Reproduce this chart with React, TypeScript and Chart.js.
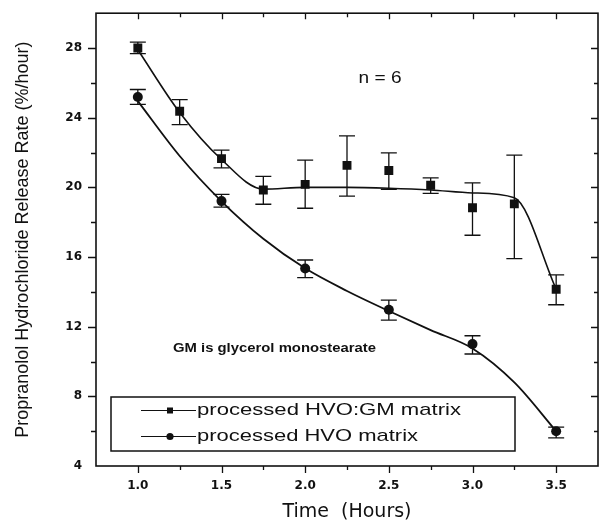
import { useEffect, useRef } from 'react';
import { Chart, registerables } from 'chart.js';

Chart.register(...registerables);

// ---- data ----
const gmTime = [1.0, 1.25, 1.5, 1.75, 2.0, 2.25, 2.5, 2.75, 3.0, 3.25, 3.5];
const gmRate = [28.0, 24.37, 21.65, 19.85, 20.17, 21.26, 20.97, 20.12, 18.83, 19.05, 14.15];
const gmUpper = [28.34, 25.04, 22.14, 20.63, 21.56, 22.96, 21.98, 20.55, 20.26, 21.85, 14.97];
const gmLower = [27.68, 23.6, 21.12, 19.03, 18.8, 19.5, 19.88, 19.66, 17.25, 15.91, 13.26];
const gmFit = [27.9, 24.3, 21.6, 19.9, 20.0, 20.0, 19.95, 19.85, 19.68, 19.4, 14.15];

const hvoTime = [1.0, 1.5, 2.0, 2.5, 3.0, 3.5];
const hvoRate = [25.19, 19.21, 15.34, 12.97, 11.0, 6.0];
const hvoUpper = [25.62, 19.6, 15.83, 13.52, 11.48, 6.23];
const hvoLower = [24.76, 18.87, 14.82, 12.38, 10.43, 5.61];
// fitted curve of the HVO series
const hvoFitTime = [1.0, 1.25, 1.5, 1.75, 2.0, 2.25, 2.5, 2.75, 3.0, 3.25, 3.5];
const hvoFit = [24.95, 21.8, 19.2, 17.05, 15.35, 14.05, 12.9, 11.8, 10.75, 8.8, 6.0];

const xTickLabels = ['1.0', '1.5', '2.0', '2.5', '3.0', '3.5'];
const yTickLabels = ['4', '8', '12', '16', '20', '24', '28'];

const seriesNames = ['processed HVO:GM matrix', 'processed HVO matrix'];
const xTitle = 'Time  (Hours)';
const yTitle = 'Propranolol Hydrochloride Release Rate (%/hour)';
const noteN = 'n = 6';
const noteGM = 'GM is glycerol monostearate';

const INK = '#111';

function labelFor(labels: string[], v: number) {
  const hit = labels.find((l) => Math.abs(parseFloat(l) - v) < 1e-6);
  return hit ?? '';
}

function stretchText(
  ctx: CanvasRenderingContext2D,
  text: string,
  x: number,
  y: number,
  font: string,
  targetWidth: number,
  align: 'left' | 'center'
) {
  ctx.save();
  ctx.font = font;
  const w = ctx.measureText(text).width;
  const sx = targetWidth / w;
  ctx.translate(x, y);
  ctx.scale(sx, 1);
  ctx.textAlign = align;
  ctx.textBaseline = 'middle';
  ctx.fillStyle = INK;
  ctx.fillText(text, 0, 0);
  ctx.restore();
}

const decorPlugin = {
  id: 'decor',
  beforeDatasetsDraw(chart: any) {
    const { ctx, scales } = chart;
    const xs = scales.x;
    const ys = scales.y;
    ctx.save();
    ctx.strokeStyle = INK;
    ctx.lineWidth = 1.3;
    const bars = (t: number[], lo: number[], hi: number[]) => {
      t.forEach((tv, i) => {
        const px = xs.getPixelForValue(tv);
        const pt = ys.getPixelForValue(hi[i]);
        const pb = ys.getPixelForValue(lo[i]);
        ctx.beginPath();
        ctx.moveTo(px, pt);
        ctx.lineTo(px, pb);
        ctx.moveTo(px - 8, pt);
        ctx.lineTo(px + 8, pt);
        ctx.moveTo(px - 8, pb);
        ctx.lineTo(px + 8, pb);
        ctx.stroke();
      });
    };
    bars(gmTime, gmLower, gmUpper);
    bars(hvoTime, hvoLower, hvoUpper);
    ctx.restore();
  },
  afterDraw(chart: any) {
    const { ctx, chartArea: a, scales } = chart;
    const xs = scales.x;
    const ys = scales.y;
    ctx.save();
    ctx.strokeStyle = INK;
    // frame
    ctx.lineWidth = 1.6;
    ctx.strokeRect(a.left, a.top, a.right - a.left, a.bottom - a.top);
    // ticks
    ctx.lineWidth = 1.3;
    ctx.beginPath();
    xs.ticks.forEach((t: any) => {
      if (t.value <= xs.min + 1e-6 || t.value >= xs.max - 1e-6) return;
      const major = labelFor(xTickLabels, t.value) !== '';
      const px = Math.round(xs.getPixelForValue(t.value)) + 0.5;
      const lb = major ? 7 : 4;
      const lt = major ? 6 : 4;
      ctx.moveTo(px, a.bottom);
      ctx.lineTo(px, a.bottom + lb);
      ctx.moveTo(px, a.top);
      ctx.lineTo(px, a.top + lt);
    });
    ys.ticks.forEach((t: any) => {
      if (t.value <= ys.min + 1e-6 || t.value >= ys.max - 1e-6) return;
      const major = labelFor(yTickLabels, t.value) !== '';
      const py = Math.round(ys.getPixelForValue(t.value)) + 0.5;
      const ll = major ? 8 : 5;
      const lr = major ? 7 : 4;
      ctx.moveTo(a.left - ll, py);
      ctx.lineTo(a.left, py);
      ctx.moveTo(a.right - lr, py);
      ctx.lineTo(a.right, py);
    });
    ctx.stroke();

    // annotations
    stretchText(ctx, noteN, 380, 78, '17px "Liberation Sans", Arial, sans-serif', 43, 'center');
    stretchText(ctx, noteGM, 173, 348, 'bold 13px "Liberation Sans", Arial, sans-serif', 203, 'left');

    // legend
    ctx.lineWidth = 1.5;
    ctx.strokeRect(111, 397, 404, 54);
    const rows = [410.5, 436.5];
    ctx.lineWidth = 1;
    rows.forEach((ry) => {
      ctx.beginPath();
      ctx.moveTo(141, ry);
      ctx.lineTo(196, ry);
      ctx.stroke();
    });
    ctx.fillStyle = INK;
    ctx.fillRect(167, rows[0] - 3, 6, 6);
    ctx.beginPath();
    ctx.arc(170, rows[1], 3.6, 0, Math.PI * 2);
    ctx.fill();
    stretchText(ctx, seriesNames[0], 197, rows[0], '17px "Liberation Sans", Arial, sans-serif', 264, 'left');
    stretchText(ctx, seriesNames[1], 197, rows[1], '17px "Liberation Sans", Arial, sans-serif', 221, 'left');
    ctx.restore();
  },
};

export default function App() {
  const ref = useRef<HTMLCanvasElement>(null);
  useEffect(() => {
    const canvas = ref.current;
    if (!canvas) return;
    const chart = new Chart(canvas, {
      type: 'line',
      data: {
        datasets: [
          {
            label: seriesNames[0] + ' fit',
            data: gmTime.map((t, i) => ({ x: t, y: gmFit[i] })),
            borderColor: INK,
            borderWidth: 1.6,
            pointRadius: 0,
            cubicInterpolationMode: 'monotone',
            fill: false,
          },
          {
            label: seriesNames[1] + ' fit',
            data: hvoFitTime.map((t, i) => ({ x: t, y: hvoFit[i] })),
            borderColor: INK,
            borderWidth: 1.8,
            pointRadius: 0,
            cubicInterpolationMode: 'monotone',
            fill: false,
          },
          {
            label: seriesNames[0],
            data: gmTime.map((t, i) => ({ x: t, y: gmRate[i] })),
            showLine: false,
            pointStyle: 'rect',
            pointRadius: 6.3,
            pointBackgroundColor: INK,
            pointBorderColor: INK,
            pointBorderWidth: 0,
          },
          {
            label: seriesNames[1],
            data: hvoTime.map((t, i) => ({ x: t, y: hvoRate[i] })),
            showLine: false,
            pointStyle: 'circle',
            pointRadius: 5,
            pointBackgroundColor: INK,
            pointBorderColor: INK,
            pointBorderWidth: 0,
          },
        ],
      },
      options: {
        responsive: false,
        animation: false,
        events: [],
        layout: { padding: { left: 0, top: 13, right: 5, bottom: 0 } },
        plugins: {
          legend: { display: false },
          tooltip: { enabled: false },
        },
        scales: {
          x: {
            type: 'linear',
            min: 0.75,
            max: 3.75,
            afterFit: (s: any) => {
              s.height = 59;
            },
            ticks: {
              stepSize: 0.25,
              autoSkip: false,
              maxRotation: 0,
              padding: 7,
              color: INK,
              font: { family: '"DejaVu Sans"', size: 12, weight: 'bold' },
              callback: (v: any) => labelFor(xTickLabels, Number(v)),
            },
            grid: { display: false, drawTicks: true, tickLength: 6 },
            border: { display: false },
            title: {
              display: true,
              text: xTitle,
              color: INK,
              font: { family: '"DejaVu Sans"', size: 19 },
              padding: { top: 0, bottom: 2 },
            },
          },
          y: {
            type: 'linear',
            min: 4,
            max: 30,
            afterFit: (s: any) => {
              s.width = 96;
            },
            ticks: {
              stepSize: 2,
              autoSkip: false,
              padding: 6,
              color: INK,
              font: { family: '"DejaVu Sans"', size: 12, weight: 'bold' },
              callback: (v: any) => labelFor(yTickLabels, Number(v)),
            },
            grid: { display: false, drawTicks: true, tickLength: 8 },
            border: { display: false },
            title: {
              display: true,
              text: yTitle,
              color: INK,
              font: { family: '"Liberation Sans", Arial, sans-serif', size: 18 },
              padding: { top: 12, bottom: 0 },
            },
          },
        },
      },
      plugins: [decorPlugin],
    } as any);
    return () => chart.destroy();
  }, []);
  return (
    <div style={{ position: 'absolute', left: 0, top: 0, width: 605, height: 525, background: '#fff' }}>
      <canvas ref={ref} width={605} height={525} style={{ display: 'block', width: 605, height: 525 }} />
    </div>
  );
}
